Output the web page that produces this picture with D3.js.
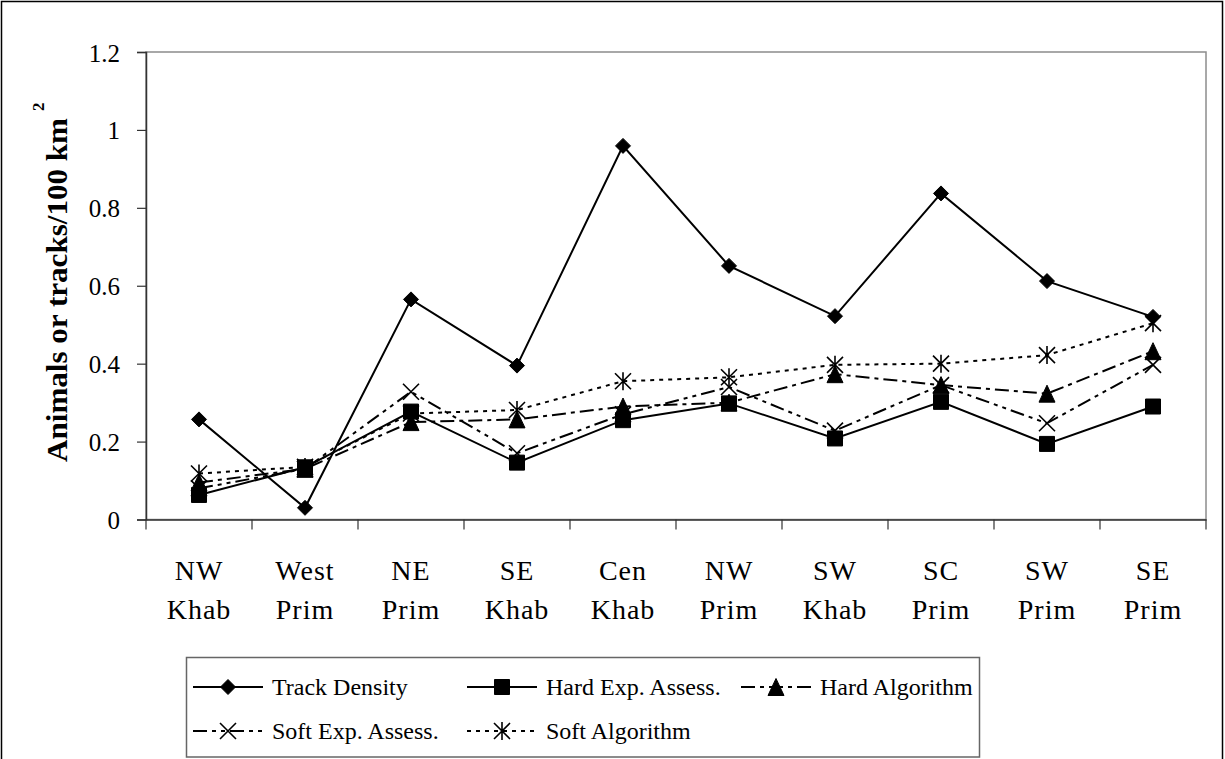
<!DOCTYPE html>
<html><head><meta charset="utf-8">
<script src="https://cdn.jsdelivr.net/npm/d3@7"></script>
<style>html,body{margin:0;padding:0;background:#fff;}svg{display:block;} text{font-family:"Liberation Serif", serif;}</style>
</head><body>
<svg id="chart" width="1225" height="759"></svg>
<script>
const categories = [["NW","Khab"],["West","Prim"],["NE","Prim"],["SE","Khab"],["Cen","Khab"],["NW","Prim"],["SW","Khab"],["SC","Prim"],["SW","Prim"],["SE","Prim"]];
const trackDensity = [0.257, 0.030, 0.565, 0.395, 0.959, 0.651, 0.522, 0.837, 0.612, 0.520];
const hardExpAssess = [0.063, 0.134, 0.277, 0.146, 0.255, 0.298, 0.208, 0.302, 0.194, 0.290];
const hardAlgorithm = [0.095, 0.130, 0.250, 0.257, 0.290, 0.300, 0.373, 0.345, 0.323, 0.432];
const softExpAssess = [0.080, 0.130, 0.328, 0.170, 0.270, 0.340, 0.228, 0.345, 0.247, 0.397];
const softAlgorithm = [0.118, 0.135, 0.272, 0.281, 0.355, 0.365, 0.397, 0.400, 0.422, 0.504];
const yTicks = [0, 0.2, 0.4, 0.6, 0.8, 1, 1.2];
const seriesNames = ["Track Density","Hard Exp. Assess.","Hard Algorithm","Soft Exp. Assess.","Soft Algorithm"];

(function(){
const series = [
  {name: seriesNames[0], values: trackDensity, marker: "diamond", dash: null},
  {name: seriesNames[1], values: hardExpAssess, marker: "square", dash: null},
  {name: seriesNames[2], values: hardAlgorithm, marker: "triangle", dash: "14,5,4,5"},
  {name: seriesNames[3], values: softExpAssess, marker: "x", dash: "14,5,4,5,4,5"},
  {name: seriesNames[4], values: softAlgorithm, marker: "asterisk", dash: "4,5"}
];

const svg = d3.select("#chart");
const FONT = "Liberation Serif";
const pL = 146, pR = 1206, pT = 52, pB = 519.5;

svg.append("rect").attr("x",1.5).attr("y",1.5).attr("width",1221).attr("height",770)
  .attr("fill","none").attr("stroke","#000").attr("stroke-width",1.5);

const idx = categories.map((d,i)=>i);
const x = d3.scalePoint().domain(idx).range([pL,pR]).padding(0.5);
const xb = d3.scaleBand().domain(idx).range([pL,pR]);
const y = d3.scaleLinear().domain([0,1.2]).range([pB,pT]);

svg.append("rect").attr("x",pL).attr("y",pT).attr("width",pR-pL).attr("height",pB-pT)
  .attr("fill","none").attr("stroke","#8c8c8c").attr("stroke-width",1.5);

const yAxis = svg.append("g").attr("transform",`translate(${pL},0)`)
  .call(d3.axisLeft(y).tickValues(yTicks).tickSize(9).tickFormat(d=>String(+d.toFixed(1))));
yAxis.select(".domain").attr("stroke","#333").attr("stroke-width",1.5);
yAxis.selectAll(".tick line").attr("stroke","#333").attr("stroke-width",1.2);
yAxis.selectAll(".tick text").attr("font-family",FONT).attr("font-size",25).attr("fill","#000")
  .attr("x",-26).attr("dy","0.36em");

const xAxis = svg.append("g").attr("transform",`translate(0,${pB})`)
  .call(d3.axisBottom(xb).tickSize(0).tickFormat(""));
xAxis.select(".domain").attr("stroke","#333").attr("stroke-width",1.5);
xAxis.selectAll(".tick").remove();
const bounds = idx.map(i=>xb(i)).concat([pR]);
xAxis.selectAll("line.bt").data(bounds).enter().append("line").attr("class","bt")
  .attr("x1",d=>d).attr("x2",d=>d).attr("y1",0).attr("y2",10).attr("stroke","#333").attr("stroke-width",1.2);
const lab = svg.append("g");
categories.forEach((c,i)=>{
  const t = lab.append("text").attr("font-family",FONT).attr("font-size",28).attr("text-anchor","middle")
    .attr("letter-spacing",1);
  t.append("tspan").attr("x",x(i)).attr("y",580).text(c[0]);
  t.append("tspan").attr("x",x(i)).attr("y",619).text(c[1]);
});

svg.append("text").attr("font-family",FONT).attr("font-size",30).attr("font-weight","bold")
  .attr("transform",`translate(67,462) rotate(-90)`)
  .attr("textLength",344).attr("lengthAdjust","spacingAndGlyphs")
  .text("Animals or tracks/100 km");
svg.append("text").attr("font-family",FONT).attr("font-size",17).attr("font-weight","bold")
  .attr("transform",`translate(44,111) rotate(-90)`).text("2");

function markerPath(type){
  const p = d3.path();
  if(type==="diamond"){ const r=7.5; p.moveTo(0,-r);p.lineTo(r,0);p.lineTo(0,r);p.lineTo(-r,0);p.closePath(); }
  else if(type==="square"){ const r=7.5; p.rect(-r,-r,2*r,2*r); }
  else if(type==="triangle"){ const w=8,h=8.5; p.moveTo(0,-h);p.lineTo(w,h);p.lineTo(-w,h);p.closePath(); }
  else if(type==="x"){ const r=8; p.moveTo(-r,-r);p.lineTo(r,r);p.moveTo(r,-r);p.lineTo(-r,r); }
  else if(type==="asterisk"){ const r=8; p.moveTo(-r,-r);p.lineTo(r,r);p.moveTo(r,-r);p.lineTo(-r,r);p.moveTo(0,-r-1);p.lineTo(0,r+1); }
  return p.toString();
}
function drawMarker(g, type, cx, cy){
  const filled = (type==="diamond"||type==="square"||type==="triangle");
  g.append("path").attr("d",markerPath(type)).attr("transform",`translate(${cx},${cy})`)
    .attr("fill",filled?"#000":"none").attr("stroke","#000").attr("stroke-width",filled?1:1.6);
}

const line = d3.line().x((d,i)=>x(i)).y(d=>y(d));
const plot = svg.append("g");
series.forEach(s=>{
  const g = plot.append("g");
  g.append("path").datum(s.values).attr("d",line).attr("fill","none").attr("stroke","#000")
    .attr("stroke-width",2).attr("stroke-dasharray",s.dash);
  s.values.forEach((v,i)=>drawMarker(g,s.marker,x(i),y(v)));
});

const lg = svg.append("g");
lg.append("rect").attr("x",186.5).attr("y",657.5).attr("width",793).attr("height",99.5)
  .attr("fill","#fff").attr("stroke","#666").attr("stroke-width",1.5);
const cols = [193, 467, 741], rows = [687, 731];
series.forEach((s,k)=>{
  const cx = cols[k % 3], cy = rows[Math.floor(k / 3)];
  const g = lg.append("g");
  const len = 70;
  g.append("line").attr("x1",cx).attr("x2",cx+len).attr("y1",cy).attr("y2",cy)
    .attr("stroke","#000").attr("stroke-width",2).attr("stroke-dasharray",s.dash);
  drawMarker(g,s.marker,cx+len/2,cy);
  g.append("text").attr("x",cx+len+9).attr("y",cy+8).attr("font-family",FONT).attr("font-size",24)
    .text(s.name);
});
})();
</script>
</body></html>
